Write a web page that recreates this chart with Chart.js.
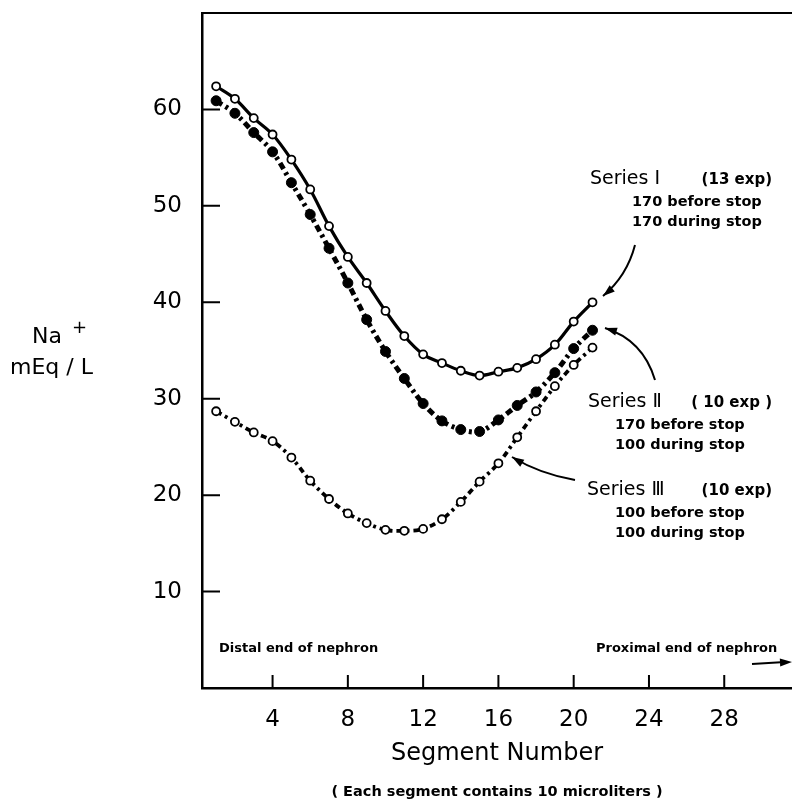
<!DOCTYPE html>
<html lang="en">
<head>
  <meta charset="UTF-8">
  <title>Na+ along the nephron</title>
  <script src="https://cdn.jsdelivr.net/npm/chart.js"></script>
  <style>
    body { margin: 0; background: #fff; overflow: hidden; }
    #wrap { width: 792px; height: 800px; }
    canvas { display: block; }
  </style>
</head>
<body>
  <div id="wrap"><canvas id="naChart" width="792" height="800"></canvas></div>
  <script>
    // values
    const segments = [1, 2, 3, 4, 5, 6, 7, 8, 9, 10, 11, 12, 13, 14, 15, 16, 17, 18, 19, 20, 21];
    const seriesI = [62.4, 61.1, 59.1, 57.4, 54.8, 51.7, 47.9, 44.7, 42.0, 39.1, 36.5, 34.6, 33.7, 32.9, 32.4, 32.8, 33.2, 34.1, 35.6, 38.0, 40.0];
    const seriesII = [60.9, 59.6, 57.6, 55.6, 52.4, 49.1, 45.6, 42.0, 38.2, 34.9, 32.1, 29.5, 27.7, 26.8, 26.6, 27.8, 29.3, 30.7, 32.7, 35.2, 37.1];
    const seriesIII = [28.7, 27.6, 26.5, 25.6, 23.9, 21.5, 19.6, 18.1, 17.1, 16.4, 16.3, 16.5, 17.5, 19.3, 21.4, 23.3, 26.0, 28.7, 31.3, 33.5, 35.3];
    const xTicks = [4, 8, 12, 16, 20, 24, 28];
    const yTicks = [10, 20, 30, 40, 50, 60];

    const FONT = '"DejaVu Sans", sans-serif';

    function pts(vals) {
      return segments.map((s, i) => ({ x: s, y: vals[i] }));
    }

    function arrowHead(ctx, fx, fy, tx, ty) {
      const ang = Math.atan2(ty - fy, tx - fx);
      const len = 12, half = 4;
      ctx.beginPath();
      ctx.moveTo(tx, ty);
      ctx.lineTo(tx - len * Math.cos(ang) + half * Math.sin(ang), ty - len * Math.sin(ang) - half * Math.cos(ang));
      ctx.lineTo(tx - len * Math.cos(ang) - half * Math.sin(ang), ty - len * Math.sin(ang) + half * Math.cos(ang));
      ctx.closePath();
      ctx.fill();
    }

    function curvedArrow(ctx, x0, y0, cx, cy, x1, y1) {
      ctx.beginPath();
      ctx.moveTo(x0, y0);
      ctx.quadraticCurveTo(cx, cy, x1, y1);
      ctx.stroke();
      arrowHead(ctx, cx, cy, x1, y1);
    }

    // no extra padding for labels at the ends of the axes
    function noPad(s) {
      s.paddingTop = 0;
      s.paddingBottom = 0;
      s.paddingLeft = 0;
      s.paddingRight = 0;
    }

    // frame, inward ticks, labels and arrows
    const decorations = {
      id: 'decorations',
      afterDraw(chart) {
        const { ctx, chartArea: a, scales: { x, y } } = chart;
        ctx.save();
        ctx.strokeStyle = '#000';
        ctx.fillStyle = '#000';
        ctx.lineWidth = 2;
        ctx.beginPath();
        ctx.moveTo(a.left, a.top);
        ctx.lineTo(a.right, a.top);
        yTicks.forEach(v => {
          const py = y.getPixelForValue(v);
          ctx.moveTo(a.left, py);
          ctx.lineTo(a.left + 18, py);
        });
        xTicks.forEach(v => {
          const px = x.getPixelForValue(v);
          ctx.moveTo(px, a.bottom);
          ctx.lineTo(px, a.bottom - 13);
        });
        ctx.stroke();

        // y title
        ctx.textBaseline = 'alphabetic';
        ctx.textAlign = 'left';
        ctx.font = '22px ' + FONT;
        ctx.fillText('Na', 32, 343);
        ctx.font = '18px ' + FONT;
        ctx.fillText('+', 72, 333);
        ctx.font = '22px ' + FONT;
        ctx.fillText('mEq / L', 10, 374);

        // x titles
        ctx.textAlign = 'center';
        ctx.font = '24px ' + FONT;
        ctx.fillText('Segment Number', (a.left + a.right) / 2, 760);
        ctx.font = 'bold 14.5px ' + FONT;
        ctx.fillText('( Each segment contains 10 microliters )', (a.left + a.right) / 2, 796);

        // nephron ends
        ctx.textAlign = 'left';
        ctx.font = 'bold 13px ' + FONT;
        ctx.fillText('Distal end of nephron', 219, 652);
        ctx.fillText('Proximal end of nephron', 596, 652);
        ctx.lineWidth = 2;
        ctx.beginPath();
        ctx.moveTo(752, 664);
        ctx.lineTo(785, 662);
        ctx.stroke();
        arrowHead(ctx, 752, 664, 792, 662);

        // series labels
        const label = (title, exp, l1, l2, tx, ty, subX) => {
          ctx.textAlign = 'left';
          ctx.font = '19px ' + FONT;
          ctx.fillText(title, tx, ty);
          ctx.textAlign = 'right';
          ctx.font = 'bold 15px ' + FONT;
          ctx.fillText(exp, 772, ty);
          ctx.textAlign = 'left';
          ctx.font = 'bold 14.5px ' + FONT;
          ctx.fillText(l1, subX, ty + 22);
          ctx.fillText(l2, subX, ty + 42);
        };
        label('Series \u2160', '(13 exp)', '170 before stop', '170 during stop', 590, 184, 632);
        label('Series \u2161', '( 10 exp )', '170 before stop', '100 during stop', 588, 407, 615);
        label('Series \u2162', '(10 exp)', '100 before stop', '100 during stop', 587, 495, 615);

        ctx.lineWidth = 2;
        curvedArrow(ctx, 635, 245, 627, 276, 603, 296);
        curvedArrow(ctx, 655, 380, 643, 340, 605, 328);
        curvedArrow(ctx, 575, 480, 540, 474, 512, 457);
        ctx.restore();
      }
    };

    const ctx = document.getElementById('naChart').getContext('2d');
    new Chart(ctx, {
      type: 'line',
      data: {
        datasets: [
          {
            label: 'Series I',
            data: pts(seriesI),
            borderColor: '#000',
            borderWidth: 3.2,
            tension: 0.35,
            pointRadius: 4,
            pointBackgroundColor: '#fff',
            pointBorderColor: '#000',
            pointBorderWidth: 1.8
          },
          {
            label: 'Series II',
            data: pts(seriesII),
            borderColor: '#000',
            borderWidth: 5,
            borderDash: [7, 4, 3, 4],
            tension: 0.35,
            pointRadius: 5,
            pointBackgroundColor: '#000',
            pointBorderColor: '#000',
            pointBorderWidth: 1
          },
          {
            label: 'Series III',
            data: pts(seriesIII),
            borderColor: '#000',
            borderWidth: 3.8,
            borderDash: [6, 4, 3, 4],
            tension: 0.35,
            pointRadius: 4,
            pointBackgroundColor: '#fff',
            pointBorderColor: '#000',
            pointBorderWidth: 1.8
          }
        ]
      },
      options: {
        responsive: false,
        animation: false,
        devicePixelRatio: 1,
        layout: { autoPadding: false, padding: { top: 13, right: 0, bottom: 0, left: 0 } },
        plugins: {
          legend: { display: false },
          tooltip: { enabled: false }
        },
        scales: {
          x: {
            type: 'linear',
            min: 0.25,
            max: 31.6,
            grid: { display: false, drawTicks: false },
            border: { display: true, color: '#000', width: 2.5 },
            ticks: { color: '#000', padding: 18, font: { family: FONT, size: 23 } },
            afterBuildTicks: s => { s.ticks = xTicks.map(v => ({ value: v })); },
            afterFit: s => { s.height = 112; noPad(s); }
          },
          y: {
            type: 'linear',
            min: 0,
            max: 70,
            grid: { display: false, drawTicks: false },
            border: { display: true, color: '#000', width: 2.5 },
            ticks: { color: '#000', padding: 20, font: { family: FONT, size: 23 } },
            afterBuildTicks: s => { s.ticks = yTicks.map(v => ({ value: v })); },
            afterFit: s => { s.width = 202; noPad(s); }
          }
        }
      },
      plugins: [decorations]
    });
  </script>
</body>
</html>
